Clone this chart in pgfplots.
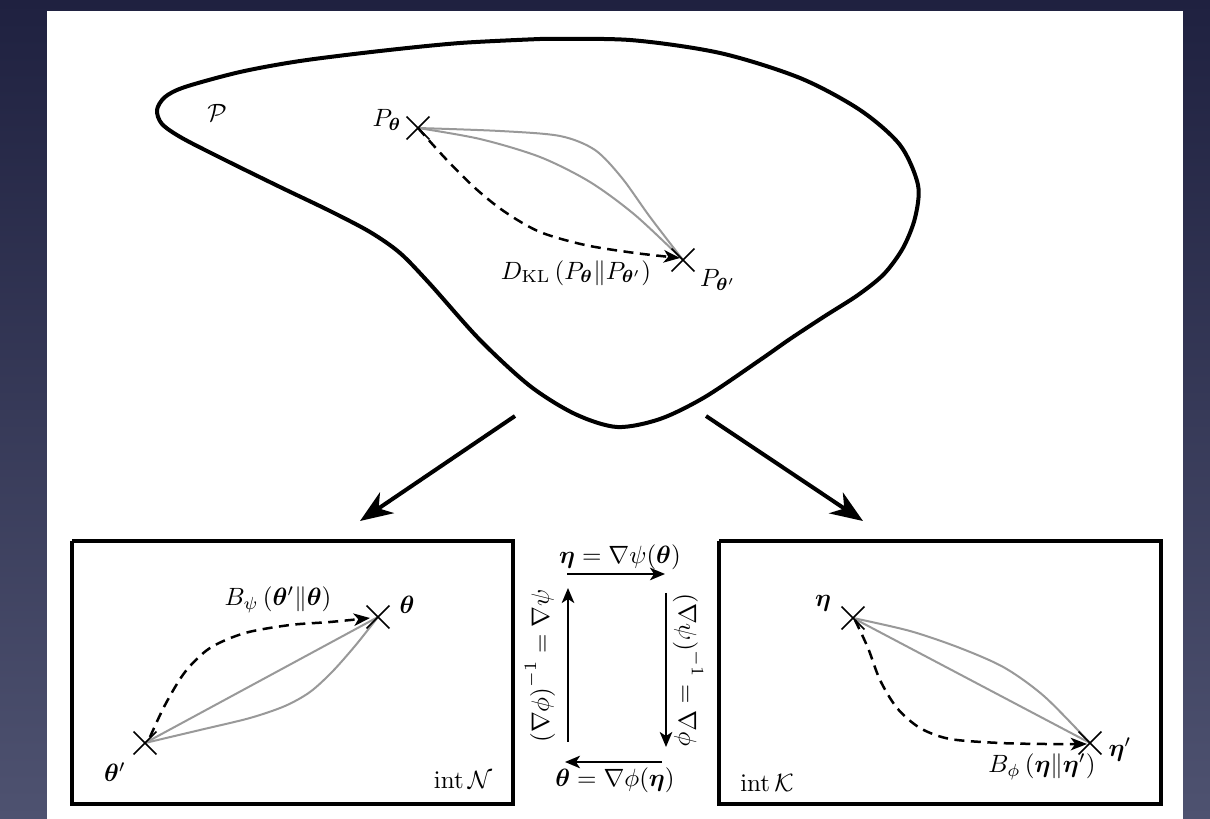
\documentclass[border=0pt]{standalone}
\usepackage{pgfplots}
\pgfplotsset{compat=1.18}
\usepackage{amsmath,amssymb,bm}
\usetikzlibrary{arrows.meta}
\definecolor{bgtop}{HTML}{1F2140}
\definecolor{bgbot}{HTML}{4E5270}
\definecolor{curvegray}{HTML}{999999}
\begin{document}
\begin{tikzpicture}
\begin{axis}[
  scale only axis, width=484pt, height=327.6pt,
  xmin=0, xmax=1210, ymin=0, ymax=819, y dir=reverse,
  hide axis, clip=false,
  every node/.style={scale=1.05},
  thick line/.style={line width=1.6pt, black, no markers, line join=round},
  gray curve/.style={line width=0.8pt, curvegray, no markers, smooth},
  dash curve/.style={line width=1pt, black, no markers, smooth, dash pattern=on 4pt off 2.6pt,
     -{Stealth[length=6.5pt, width=5pt, inset=1.8pt]}},
  small arrow/.style={line width=0.8pt, black, no markers, -{Stealth[length=6pt, width=5pt, inset=1.6pt]}},
  big arrow/.style={line width=1.6pt, black, no markers, -{Stealth[length=13pt, width=10pt, inset=4pt]}},
  crosses/.style={only marks, mark=x, mark size=6.5pt, black, mark options={line width=0.6pt}},
]
% background and panel
\fill[top color=bgtop, bottom color=bgbot] (axis cs:0,0) rectangle (axis cs:1210,819);
\fill[white] (axis cs:47,11) rectangle (axis cs:1183,819);

% blob P
\addplot[thick line, smooth] coordinates {
(540,39) (630,40) (720,53) (800,78) (860,110) (900,145) (918,185) (915,218) (903,248)
(884,274) (858,295) (825,316) (790,339) (760,360) (705,397) (660,419) (617,427) (575,414) (530,386) (480,340)
(430,284) (400,253) (370,232) (330,211) (280,187) (225,160) (182,138) (162,124) (157,110) (165,97)
(185,87) (240,72) (300,61) (380,51) (460,43) (540,39)};

% curves in P
\addplot[gray curve] coordinates {(418,128) (500,131) (560,136) (595,150) (622,178) (650,217) (683,260)};
\addplot[gray curve] coordinates {(418,128) (480,139) (540,157) (590,182) (635,215) (683,260)};
\addplot[dash curve] coordinates {(418,128) (445,158) (475,188) (505,212) (540,232) (585,245) (635,253) (680,258)};
\addplot[crosses] coordinates {(418,128) (683,260)};

% big arrows
\addplot[big arrow] coordinates {(515,416) (360,521)};
\addplot[big arrow] coordinates {(706,416) (863,521)};

% boxes
\addplot[thick line, line join=miter] coordinates {(72,541) (513,541) (513,804) (72,804) (72,541)};
\addplot[thick line, line join=miter] coordinates {(719,541) (1161,541) (1161,804) (719,804) (719,541)};

% left box curves
\addplot[gray curve] coordinates {(145,743) (378,617)};
\addplot[gray curve] coordinates {(145,743) (200,730) (250,718) (285,706) (310,692) (332,672) (355,646) (378,617)};
\addplot[dash curve] coordinates {(150,737) (165,705) (185,672) (210,648) (245,633) (290,625) (330,622) (370,618)};
\addplot[crosses] coordinates {(145,743) (378,617)};

% right box curves
\addplot[gray curve] coordinates {(853,618) (1090,743)};
\addplot[gray curve] coordinates {(853,618) (910,631) (960,648) (1005,668) (1045,697) (1090,743)};
\addplot[dash curve] coordinates {(855,620) (868,648) (880,680) (897,708) (920,728) (950,739) (1000,743) (1045,744) (1087,744)};
\addplot[crosses] coordinates {(853,618) (1090,743)};

% small arrows
\addplot[small arrow] coordinates {(567,574) (665,574)};
\addplot[small arrow] coordinates {(666,593) (666,747)};
\addplot[small arrow] coordinates {(662,762) (565,762)};
\addplot[small arrow] coordinates {(568,742) (568,588)};

% labels
\node at (axis cs:217,113) {$\mathcal{P}$};
\node at (axis cs:387,120) {$P_{\boldsymbol{\theta}}$};
\node at (axis cs:718,280) {$P_{\boldsymbol{\theta}'}$};
\node at (axis cs:576,273) {$D_{\mathrm{KL}}\left(P_{\boldsymbol{\theta}}\|P_{\boldsymbol{\theta}'}\right)$};
\node at (axis cs:278,600) {$B_{\psi}\left(\boldsymbol{\theta}'\|\boldsymbol{\theta}\right)$};
\node at (axis cs:407,605) {$\boldsymbol{\theta}$};
\node at (axis cs:115,772) {$\boldsymbol{\theta}'$};
\node at (axis cs:463,780) {$\operatorname{int}\mathcal{N}$};
\node at (axis cs:823,603) {$\boldsymbol{\eta}$};
\node at (axis cs:1120,750) {$\boldsymbol{\eta}'$};
\node at (axis cs:1042,767) {$B_{\phi}\left(\boldsymbol{\eta}\|\boldsymbol{\eta}'\right)$};
\node at (axis cs:767,783) {$\operatorname{int}\mathcal{K}$};
\node at (axis cs:620,557) {$\boldsymbol{\eta}=\nabla\psi(\boldsymbol{\theta})$};
\node at (axis cs:615,780) {$\boldsymbol{\theta}=\nabla\phi(\boldsymbol{\eta})$};
\node[rotate=90] at (axis cs:540,666) {$\left(\nabla\phi\right)^{-1}=\nabla\psi$};
\node[rotate=-90] at (axis cs:688,670) {$\left(\nabla\psi\right)^{-1}=\nabla\phi$};
\end{axis}
\end{tikzpicture}
\end{document}
